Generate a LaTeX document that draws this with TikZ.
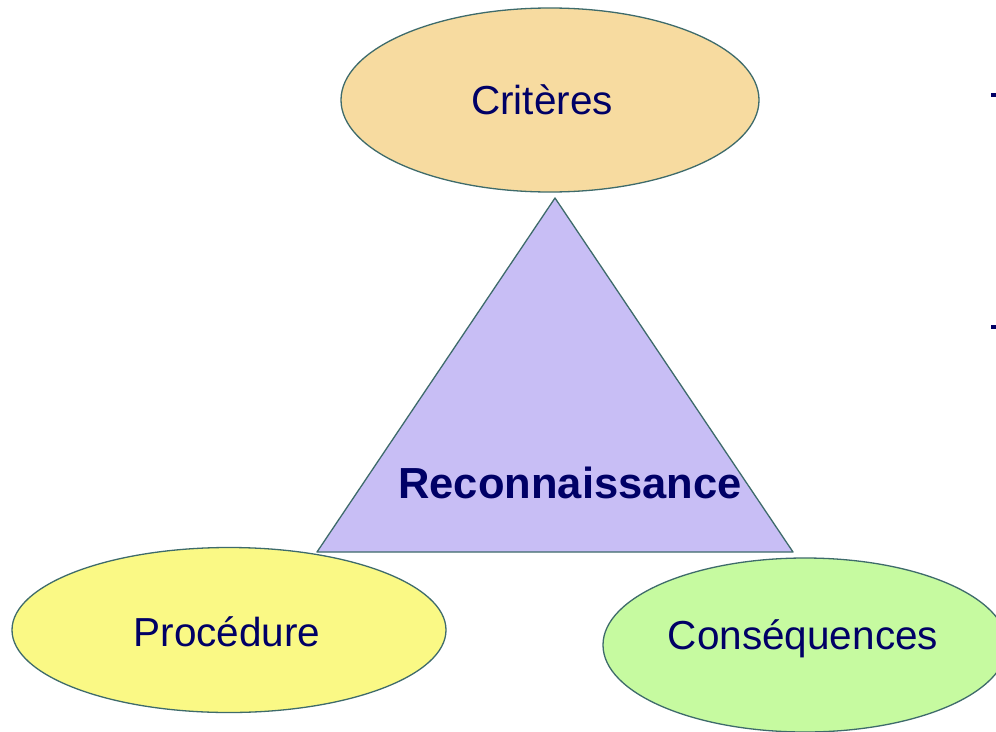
\documentclass[tikz,border=0pt]{standalone}
\usepackage{fontspec}
\setmainfont{Liberation Sans}
\usetikzlibrary{shapes.geometric}

\definecolor{edgeteal}{HTML}{3E6B6B}
\definecolor{textnavy}{HTML}{000066}
\definecolor{critfill}{HTML}{F7DBA0}
\definecolor{procfill}{HTML}{FAF985}
\definecolor{consfill}{HTML}{C6FAA0}
\definecolor{recofill}{HTML}{C8BEF5}

\tikzstyle{bigfig}=[x=1pt,y=-1pt]
\tikzstyle{bubble}=[ellipse,draw=edgeteal,line width=1.3pt,inner sep=0pt]
\tikzstyle{bubbletext}=[text=textnavy,font=\fontsize{40.5}{48}\selectfont]

\begin{document}
\begin{tikzpicture}[style=bigfig]
\clip (0,0) rectangle (996,731);
\fill [white] (0,0) rectangle (996,731);

\node[bubble,fill=critfill,minimum width=418pt,minimum height=184pt] (crit) at (550,100) {};
\node[bubble,fill=procfill,minimum width=434pt,minimum height=165pt] (proc) at (229,630) {};
\node[bubble,fill=consfill,minimum width=404pt,minimum height=174pt] (cons) at (805,645) {};
\node[bubbletext] (critlabel) at ([xshift=-8pt]crit.center) {Crit\`eres};
\node[bubbletext] (proclabel) at ([xshift=-2pt,yshift=-2pt]proc.center) {Proc\'edure};
\node[bubbletext] (conslabel) at ([xshift=-2pt,yshift=6pt]cons.center) {Cons\'equences};

\coordinate (apex) at (555,198);
\coordinate (baseL) at (317,552);
\coordinate (baseR) at (793,552);
\draw[draw=edgeteal,fill=recofill,line width=1.3pt,line join=round] (apex) -- (baseL) -- (baseR) -- cycle;
\node[text=textnavy,font=\fontsize{43.5}{50}\selectfont\bfseries] (reco) at (570,483) {Reconnaissance};

\fill [textnavy] (990.5,93.3) rectangle (996,97.3);
\fill [textnavy] (990.5,325.3) rectangle (996,329.3);
\end{tikzpicture}
\end{document}
